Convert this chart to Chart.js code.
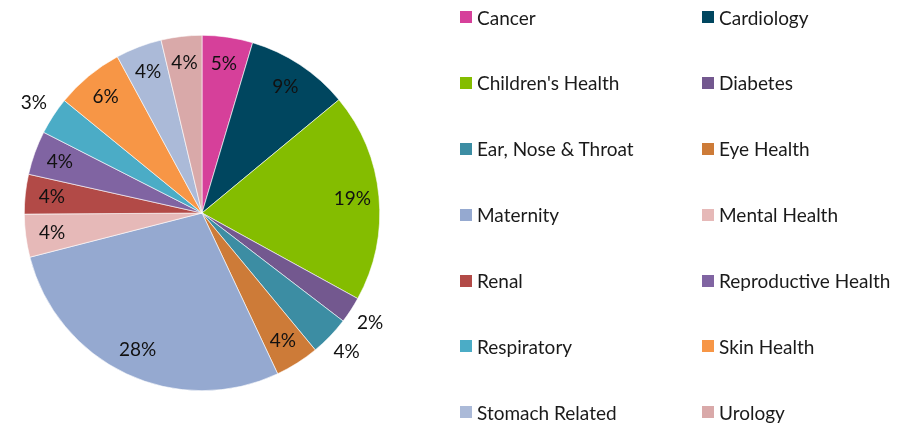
<!DOCTYPE html>
<html>
<head>
<meta charset="utf-8">
<script src="https://cdn.jsdelivr.net/npm/chart.js@4.4.1/dist/chart.umd.min.js"></script>
<style>
  html, body { margin: 0; padding: 0; background: #fff; }
  #wrap { position: relative; width: 915px; height: 427px; }
  #legend {
    position: absolute; left: 460px; top: 5px;
    display: grid; grid-template-columns: 242px 200px; grid-auto-rows: 65.9px;
    font-family: Lato, "Open Sans", sans-serif; font-size: 19px; color: #1a1a1a;
  }
  .item { display: flex; align-items: center; height: 24px; white-space: nowrap; }
  .box { width: 12px; height: 12px; margin-right: 5px; flex: none; }
</style>
</head>
<body>
<div id="wrap">
  <canvas id="pieChart" width="915" height="427"></canvas>
  <div id="legend"></div>
</div>
<script>
const categories = ['Cancer', 'Cardiology', "Children's Health", 'Diabetes', 'Ear, Nose & Throat', 'Eye Health',
  'Maternity', 'Mental Health', 'Renal', 'Reproductive Health', 'Respiratory', 'Skin Health', 'Stomach Related', 'Urology'];
const shares = [4.6, 9.4, 19.0, 2.4, 3.6, 4.0, 28.0, 3.9, 3.6, 4.0, 3.4, 6.2, 4.2, 3.7];
const colors = ['#D6409A', '#00465F', '#84BD00', '#73588F', '#3C8DA3', '#CD7B38', '#95A9D0',
  '#E6B9B8', '#B24A47', '#8064A2', '#4BACC6', '#F79646', '#ABBAD8', '#D9A9A9'];
// slices whose label Excel pushed outside the pie
const outsideLabels = ['Diabetes', 'Ear, Nose & Throat', 'Respiratory'];

const total = shares.reduce((a, b) => a + b, 0);

// draw the percentage labels on or next to each slice
const sliceLabels = {
  id: 'sliceLabels',
  afterDatasetsDraw(chart) {
    const ctx = chart.ctx;
    const meta = chart.getDatasetMeta(0);
    ctx.save();
    ctx.font = '19px Lato, "Open Sans", sans-serif';
    ctx.fillStyle = '#111';
    ctx.textAlign = 'center';
    ctx.textBaseline = 'middle';
    meta.data.forEach((arc, i) => {
      const mid = (arc.startAngle + arc.endAngle) / 2;
      const outside = outsideLabels.includes(categories[i]);
      const r = arc.outerRadius * (outside ? 1.13 : 0.85);
      const pct = Math.round(shares[i] / total * 100) + '%';
      ctx.fillText(pct, arc.x + Math.cos(mid) * r, arc.y + Math.sin(mid) * r);
    });
    ctx.restore();
  }
};

const pieChart = new Chart(document.getElementById('pieChart'), {
  type: 'pie',
  data: {
    labels: categories,
    datasets: [{
      data: shares,
      backgroundColor: colors,
      borderColor: '#ffffff',
      borderWidth: 0.6
    }]
  },
  options: {
    responsive: false,
    animation: false,
    layout: { padding: { left: 24, right: 535, top: 35, bottom: 36 } },
    plugins: {
      legend: { display: false },
      tooltip: { enabled: false }
    }
  },
  plugins: [sliceLabels]
});

// two-column legend, row by row like the original
const legendEl = document.getElementById('legend');
categories.forEach((name, i) => {
  const item = document.createElement('div');
  item.className = 'item';
  item.innerHTML = `<span class="box" style="background:${colors[i]}"></span><span></span>`;
  item.lastChild.textContent = name;
  legendEl.appendChild(item);
});
</script>
</body>
</html>
